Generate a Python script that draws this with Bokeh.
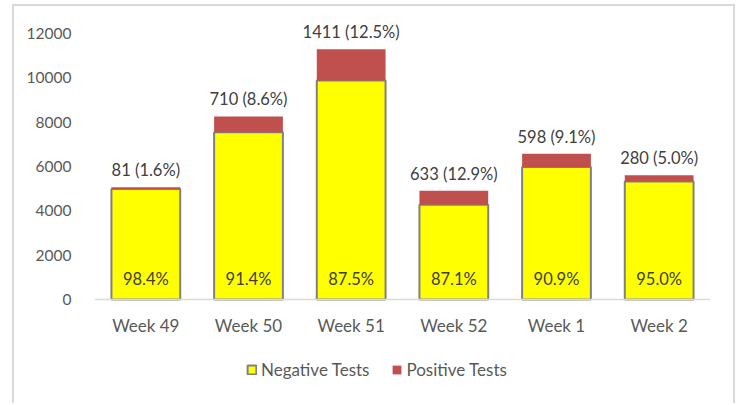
from bokeh.plotting import figure
from bokeh.models import ColumnDataSource, FactorRange, Range1d, Legend, LegendItem, FixedTicker
from bokeh.core.properties import value
from bokeh.embed import file_html
from bokeh.resources import INLINE

weeks = ["Week 49", "Week 50", "Week 51", "Week 52", "Week 1", "Week 2"]
negative = [4981, 7546, 9877, 4274, 5973, 5320]
positive = [81, 710, 1411, 633, 598, 280]
pos_labels = ["81 (1.6%)", "710 (8.6%)", "1411 (12.5%)", "633 (12.9%)", "598 (9.1%)", "280 (5.0%)"]
neg_labels = ["98.4%", "91.4%", "87.5%", "87.1%", "90.9%", "95.0%"]
y_ticks = [0, 2000, 4000, 6000, 8000, 10000, 12000]

FONT = "Lato"
W, H = 723, 399

totals = [n + p for n, p in zip(negative, positive)]
src = ColumnDataSource(dict(week=weeks, neg=negative, pos=positive, total=totals,
                            zero=[0] * len(weeks), pos_lab=pos_labels, neg_lab=neg_labels))

p = figure(width=W, height=H, x_range=FactorRange(*weeks, range_padding=0),
           y_range=Range1d(-4556, 12902), output_backend="svg", toolbar_location=None,
           min_border_left=80, min_border_right=27, min_border_top=7, min_border_bottom=5)
p.styles = {"border-left": "2px solid #D9D9D9", "border-right": "2px solid #D9D9D9",
            "border-top": "2px solid #D9D9D9", "margin-left": "12px", "margin-top": "4px"}

p.outline_line_color = None
p.xgrid.grid_line_color = None
p.ygrid.grid_line_color = None

neg_r = p.vbar(x="week", bottom=0, top="neg", width=0.67, source=src,
               fill_color="#FFFF00", line_color="#808080", line_width=2)
pos_r = p.vbar(x="week", bottom="neg", top="total", width=0.67, source=src,
               fill_color="#C0504D", line_color=None)

p.text(x="week", y="total", text="pos_lab", source=src, text_align="center",
       text_baseline="middle", y_offset=-17, text_font=value(FONT),
       text_font_size="16.5px", text_color="#404040")
p.text(x="week", y="zero", text="neg_lab", source=src, text_align="center",
       text_baseline="middle", y_offset=-21, text_font=value(FONT),
       text_font_size="16.5px", text_color="#404040")

p.yaxis.ticker = FixedTicker(ticks=y_ticks)
p.yaxis.axis_line_color = None
p.yaxis.major_tick_line_color = None
p.yaxis.minor_tick_line_color = None
p.yaxis.major_label_text_font = FONT
p.yaxis.major_label_text_font_size = "15.5px"
p.yaxis.major_label_text_color = "#595959"
p.yaxis.major_label_standoff = 17

p.xaxis.fixed_location = 0
p.xaxis.axis_line_color = "#D9D9D9"
p.xaxis.axis_line_width = 1.5
p.xaxis.major_tick_line_color = None
p.xaxis.minor_tick_line_color = None
p.xaxis.major_label_text_font = FONT
p.xaxis.major_label_text_font_size = "17px"
p.xaxis.major_label_text_color = "#595959"
p.xaxis.major_label_standoff = 9

legend = Legend(items=[LegendItem(label="Negative Tests", renderers=[neg_r]),
                       LegendItem(label="Positive Tests", renderers=[pos_r])],
                orientation="horizontal", location=(152, 20),
                label_text_font=FONT, label_text_font_size="17px", label_text_color="#595959",
                glyph_width=11, glyph_height=11, spacing=22, label_standoff=4,
                border_line_color=None, background_fill_alpha=0, margin=0, padding=0)
p.add_layout(legend)

open("out.html", "w").write(file_html(p, INLINE))
